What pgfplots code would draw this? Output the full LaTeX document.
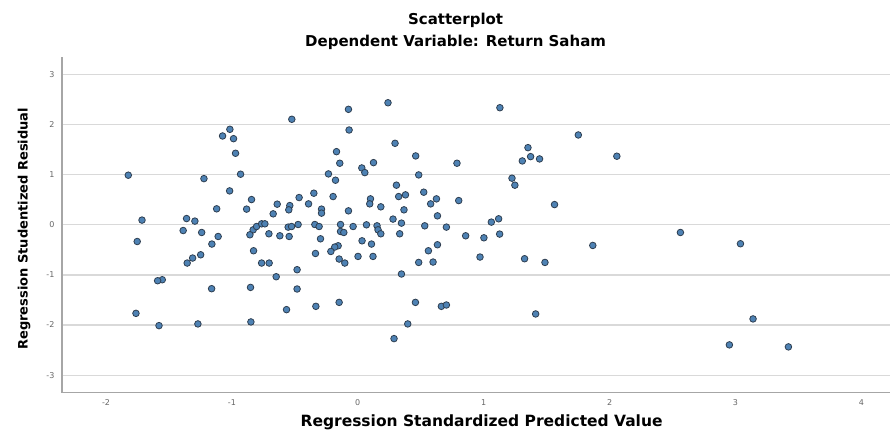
\documentclass[border=0pt]{standalone}
\usepackage{pgfplots}
\pgfplotsset{compat=1.18}
\usepackage{fontspec}
\setmainfont{DejaVu Sans}
\definecolor{ptfill}{HTML}{4E82B4}
\definecolor{ptdraw}{HTML}{2E3E50}
\definecolor{gridc}{HTML}{D9D9D9}
\definecolor{axc}{HTML}{A6A6A6}
\definecolor{tickc}{HTML}{666666}
\begin{document}
\begin{tikzpicture}
\begin{axis}[
  scale only axis, width=829pt, height=336pt,
  xmin=-2.35, xmax=4.23, ymin=-3.35, ymax=3.35,
  axis lines*=left,
  axis line style={axc, line width=1.5pt},
  xtick={-2,-1,0,1,2,3,4}, ytick={-3,-2,-1,0,1,2,3},
  major tick length=0pt,
  ymajorgrids, grid style={gridc, line width=1.2pt},
  tick label style={font=\fontsize{8}{9}\selectfont, text=tickc},
  /pgf/number format/assume math mode=true,
  xticklabel style={yshift=-3pt},
  yticklabel style={xshift=-4pt},
  clip=false,
]
\addplot[only marks, mark=*, mark size=3.3pt, mark options={fill=ptfill, draw=ptdraw, line width=0.8pt}] coordinates {
(-1.016,1.906) (-1.074,1.773) (-0.987,1.719) (-0.971,1.428) (-1.823,0.990)
(-1.222,0.922) (-0.931,1.010) (-1.018,0.677) (-0.844,0.504) (-1.121,0.319)
(-0.883,0.313) (-0.640,0.412) (-0.672,0.219) (-1.714,0.094) (-1.360,0.125)
(-1.294,0.074) (-1.387,-0.114) (-1.240,-0.153) (-1.109,-0.233) (-1.159,-0.384)
(-1.752,-0.333) (-0.831,-0.100) (-0.804,-0.034) (-0.764,0.020) (-0.738,0.020)
(-0.857,-0.199) (-0.706,-0.179) (-0.619,-0.219) (-0.828,-0.518) (-1.248,-0.598)
(-1.312,-0.663) (-1.355,-0.763) (-0.764,-0.763) (-0.704,-0.763) (-0.648,-1.036)
(-1.553,-1.096) (-1.590,-1.116) (-1.161,-1.275) (-0.852,-1.249) (-1.762,-1.767)
(-1.579,-2.012) (-1.270,-1.978) (-0.849,-1.938)
(-0.524,2.106) (-0.074,2.305) (0.240,2.436) (-0.069,1.892) (0.296,1.627)
(-0.169,1.460) (0.460,1.375) (-0.143,1.229) (0.125,1.241) (0.032,1.135)
(0.056,1.042) (0.788,1.229) (-0.233,1.016) (-0.177,0.890) (0.484,0.996)
(0.307,0.791) (0.524,0.651) (-0.349,0.631) (-0.466,0.544) (-0.196,0.564)
(0.325,0.564) (0.379,0.598) (-0.540,0.384) (-0.548,0.299) (-0.391,0.418)
(0.625,0.518) (0.579,0.418) (0.101,0.518) (0.095,0.418) (0.183,0.359)
(-0.288,0.313) (-0.288,0.233) (-0.074,0.279) (0.367,0.299) (0.802,0.484)
(0.633,0.179) (0.280,0.114) (0.347,0.034)
(-0.553,-0.046) (-0.526,-0.034) (-0.474,0.006) (-0.341,0.006) (-0.307,-0.034)
(-0.137,0.006) (-0.137,-0.133) (-0.111,-0.153) (-0.037,-0.034) (0.069,0.000)
(0.153,-0.020) (0.161,-0.100) (0.183,-0.179) (0.333,-0.179) (0.532,-0.020)
(0.704,-0.046) (0.857,-0.219) (-0.545,-0.233) (-0.296,-0.279) (0.034,-0.319)
(0.109,-0.384) (-0.156,-0.418) (-0.183,-0.444) (-0.214,-0.532) (-0.336,-0.572)
(0.002,-0.631) (0.121,-0.631) (-0.148,-0.683) (-0.103,-0.763) (0.633,-0.398)
(0.561,-0.518) (0.484,-0.751) (0.598,-0.743) (-0.482,-0.896) (0.347,-0.982)
(-0.482,-1.281) (-0.148,-1.548) (-0.333,-1.627) (-0.566,-1.693) (0.458,-1.548)
(0.664,-1.627) (0.704,-1.600) (0.397,-1.978) (0.288,-2.271)
(1.129,2.337) (1.752,1.793) (1.352,1.540) (1.373,1.361) (1.307,1.275)
(1.444,1.315) (2.058,1.369) (1.225,0.930) (1.248,0.791) (1.563,0.404)
(1.061,0.054) (1.119,0.120) (1.002,-0.259) (1.127,-0.185) (1.867,-0.412)
(0.971,-0.643) (1.325,-0.677) (1.487,-0.751) (1.413,-1.779)
(2.563,-0.153) (3.040,-0.378) (3.140,-1.878) (2.952,-2.396) (3.421,-2.436)
};
\end{axis}
\path (current axis.south west) ++(-62pt,-43pt) rectangle ++(891pt,436pt);
\node[font=\bfseries\fontsize{15}{17}\selectfont] at ([shift={(394pt,373pt)}]current axis.south west) {Scatterplot};
\node[font=\bfseries\fontsize{15}{17}\selectfont] at ([shift={(394pt,351pt)}]current axis.south west) {Dependent Variable: Return Saham};
\node[font=\bfseries\fontsize{15.5}{17}\selectfont] at ([shift={(420pt,-30pt)}]current axis.south west) {Regression Standardized Predicted Value};
\node[font=\bfseries\fontsize{13}{15}\selectfont, rotate=90] at ([shift={(-38pt,164pt)}]current axis.south west) {Regression Studentized Residual};
\end{tikzpicture}
\end{document}
